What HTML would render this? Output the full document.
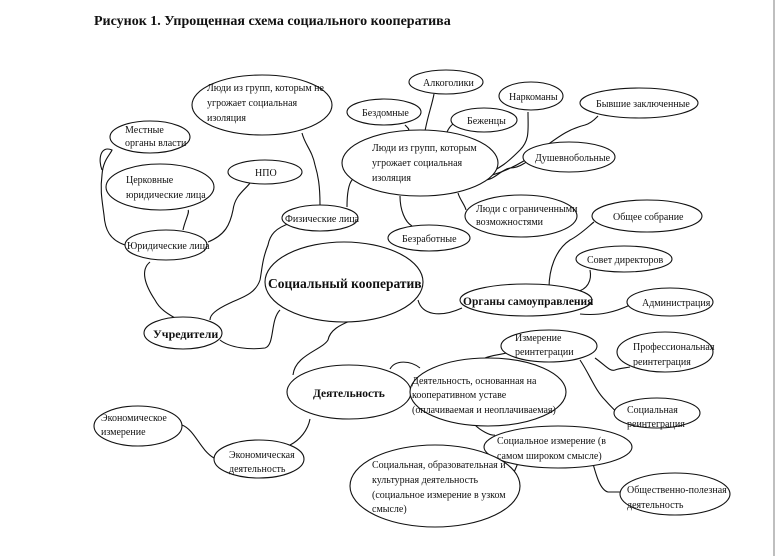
<!DOCTYPE html>
<html><head><meta charset="utf-8"><style>
html,body{margin:0;padding:0;background:#fff;}
svg{display:block;}
text{font-family:"Liberation Serif",serif;font-size:10px;fill:#111;}
.b{font-weight:bold;}
</style></head><body>
<svg width="775" height="556" viewBox="0 0 775 556" xmlns="http://www.w3.org/2000/svg">
<line x1="774" y1="0" x2="774" y2="556" stroke="#aaa" stroke-width="1.5"/>
<text x="94" y="25" class="b" style="font-size:14px">Рисунок 1. Упрощенная схема социального кооператива</text>
<g fill="none" stroke="#111" stroke-width="1.1">
<path d="M320,205 C320,185 318,175 315,165 C312,150 305,145 302,133"/>
<path d="M347,207 C347,195 348,185 352,180 C356,176 350,172 345,168"/>
<path d="M291,223 C275,228 270,235 268,245 C262,260 262,270 260,280 C255,295 240,298 230,303 C215,310 210,315 210,320"/>
<path d="M208,242 C225,235 230,225 233,210 C235,195 245,190 250,183"/>
<path d="M183,230 C185,220 190,212 188,210"/>
<path d="M125,245 C110,240 105,230 104,215 C102,200 100,190 102,175 C103,160 110,155 112,150 C100,145 98,160 102,170"/>
<path d="M150,262 C140,270 145,285 155,300 C160,310 170,315 175,318"/>
<path d="M220,340 C230,348 250,350 265,348 C275,345 270,320 280,310"/>
<path d="M350,321 C340,325 330,330 328,340 C322,350 295,355 293,375"/>
<path d="M418,300 C422,315 440,318 462,308"/>
<path d="M310,419 C308,430 300,440 290,445"/>
<path d="M182,425 C195,430 200,450 214,458"/>
<path d="M390,369 C395,360 410,360 420,368"/>
<path d="M475,425 C480,430 490,436 495,435"/>
<path d="M510,352 C500,355 492,355 485,358"/>
<path d="M580,360 C590,375 595,390 605,400 C612,408 615,410 616,412"/>
<path d="M595,358 C605,365 610,372 615,370 C620,368 625,368 630,367"/>
<path d="M520,458 C515,470 510,485 500,490 L480,500"/>
<path d="M592,460 C596,475 600,490 608,492 L622,492"/>
<path d="M549,288 C549,270 555,250 570,240 C580,235 590,225 594,222"/>
<path d="M575,292 C588,290 592,280 590,270"/>
<path d="M580,314 C600,316 615,312 630,305"/>
<path d="M400,196 C400,210 405,222 412,226"/>
<path d="M458,193 C460,200 465,205 466,210"/>
<path d="M484,180 C495,180 500,170 510,168 C520,168 525,162 527,162"/>
<path d="M480,176 C500,170 510,160 520,150 C530,140 528,130 528,112"/>
<path d="M478,178 C500,175 520,165 540,150 C555,140 565,130 585,125 C592,123 596,118 598,116"/>
<path d="M425,131 C428,115 432,105 434,94"/>
<path d="M447,132 C450,125 455,122 458,122"/>
<path d="M405,125 C408,128 410,130 408,130"/>
</g>
<g fill="#fff" stroke="#111" stroke-width="1.1">
<ellipse cx="262" cy="105" rx="70" ry="30"/>
<ellipse cx="150" cy="137" rx="40" ry="16"/>
<ellipse cx="160" cy="187" rx="54" ry="23"/>
<ellipse cx="265" cy="172" rx="37" ry="12"/>
<ellipse cx="166" cy="245" rx="41" ry="15"/>
<ellipse cx="320" cy="218" rx="38" ry="13"/>
<ellipse cx="344" cy="282" rx="79" ry="40"/>
<ellipse cx="183" cy="333" rx="39" ry="16"/>
<ellipse cx="384" cy="112" rx="37" ry="13"/>
<ellipse cx="446" cy="82" rx="37" ry="12"/>
<ellipse cx="531" cy="96" rx="32" ry="14"/>
<ellipse cx="484" cy="120" rx="33" ry="12"/>
<ellipse cx="639" cy="103" rx="59" ry="15"/>
<ellipse cx="420" cy="163" rx="78" ry="33"/>
<ellipse cx="569" cy="157" rx="46" ry="15"/>
<ellipse cx="521" cy="216" rx="56" ry="21"/>
<ellipse cx="429" cy="238" rx="41" ry="13"/>
<ellipse cx="647" cy="216" rx="55" ry="16"/>
<ellipse cx="624" cy="259" rx="48" ry="13"/>
<ellipse cx="526" cy="300" rx="66" ry="16"/>
<ellipse cx="670" cy="302" rx="43" ry="14"/>
<ellipse cx="549" cy="346" rx="48" ry="16"/>
<ellipse cx="665" cy="352" rx="48" ry="20"/>
<ellipse cx="349" cy="392" rx="62" ry="27"/>
<ellipse cx="488" cy="392" rx="78" ry="34"/>
<ellipse cx="657" cy="413" rx="43" ry="15"/>
<ellipse cx="138" cy="426" rx="44" ry="20"/>
<ellipse cx="558" cy="447" rx="74" ry="21"/>
<ellipse cx="259" cy="459" rx="45" ry="19"/>
<ellipse cx="435" cy="486" rx="85" ry="41"/>
<ellipse cx="675" cy="494" rx="55" ry="21"/>
</g>
<text x="207" y="91">Люди из групп, которым не</text>
<text x="207" y="106">угрожает социальная</text>
<text x="207" y="121">изоляция</text>
<text x="125" y="133">Местные</text>
<text x="125" y="146">органы власти</text>
<text x="126" y="183">Церковные</text>
<text x="126" y="198">юридические лица</text>
<text x="255" y="176">НПО</text>
<text x="127" y="249">Юридические лица</text>
<text x="285" y="222">Физические лица</text>
<text x="268" y="288" class="b" style="font-size:13.5px">Социальный  кооператив</text>
<text x="153" y="338" class="b" style="font-size:12px">Учредители</text>
<text x="362" y="116">Бездомные</text>
<text x="423" y="86">Алкоголики</text>
<text x="509" y="100">Наркоманы</text>
<text x="467" y="124">Беженцы</text>
<text x="596" y="107">Бывшие заключенные</text>
<text x="372" y="151">Люди из групп, которым</text>
<text x="372" y="166">угрожает социальная</text>
<text x="372" y="181">изоляция</text>
<text x="535" y="161">Душевнобольные</text>
<text x="476" y="212">Люди с ограниченными</text>
<text x="476" y="225">возможностями</text>
<text x="402" y="242">Безработные</text>
<text x="613" y="220">Общее собрание</text>
<text x="587" y="263">Совет директоров</text>
<text x="463" y="305" class="b" style="font-size:11.5px">Органы самоуправления</text>
<text x="642" y="306">Администрация</text>
<text x="515" y="341">Измерение</text>
<text x="515" y="355">реинтеграции</text>
<text x="633" y="350">Профессиональная</text>
<text x="633" y="365">реинтеграция</text>
<text x="313" y="397" class="b" style="font-size:11.5px">Деятельность</text>
<text x="412" y="384">Деятельность, основанная на</text>
<text x="412" y="398">кооперативном уставе</text>
<text x="412" y="413">(оплачиваемая и неоплачиваемая)</text>
<text x="627" y="413">Социальная</text>
<text x="627" y="427">реинтеграция</text>
<text x="101" y="421">Экономическое</text>
<text x="101" y="435">измерение</text>
<text x="497" y="444">Социальное измерение (в</text>
<text x="497" y="459">самом широком смысле)</text>
<text x="229" y="458">Экономическая</text>
<text x="229" y="472">деятельность</text>
<text x="372" y="468">Социальная, образовательная и</text>
<text x="372" y="483">культурная деятельность</text>
<text x="372" y="498">(социальное измерение в узком</text>
<text x="372" y="512">смысле)</text>
<text x="627" y="493">Общественно-полезная</text>
<text x="627" y="508">деятельность</text>
</svg>
</body></html>
